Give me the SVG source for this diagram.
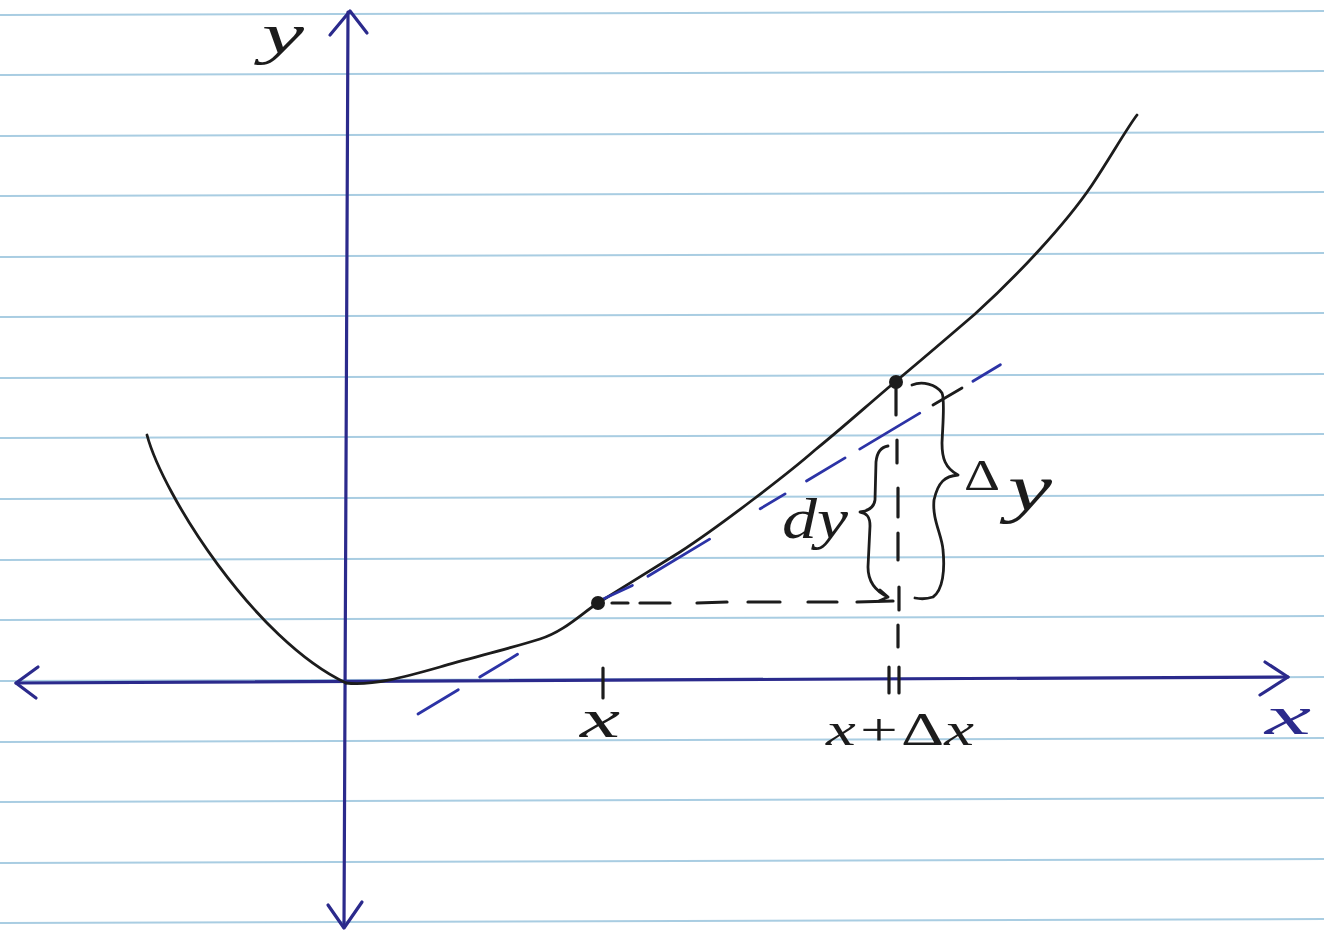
<svg xmlns="http://www.w3.org/2000/svg" width="1324" height="941" viewBox="0 0 1324 941">
<defs>
<style>
.paper{stroke:#a9cde2;stroke-width:2;fill:none}
.axis{stroke:#2b2a8c;stroke-width:3.2;fill:none;stroke-linecap:round;stroke-linejoin:round}
.ink{stroke:#1c1c1c;stroke-width:2.8;fill:none;stroke-linecap:round;stroke-linejoin:round}
.dash{stroke:#1c1c1c;stroke-width:3.2;fill:none;stroke-linecap:round}
.tan{stroke:#2c33a6;stroke-width:2.8;fill:none;stroke-linecap:round}
.lbl{font-family:"Liberation Serif","DejaVu Serif",serif;font-style:italic;fill:#1c1c1c}
.up{font-style:normal}
</style>
</defs>
<rect width="1324" height="941" fill="#ffffff"/>
<g id="paper">
<line class="paper" x1="0" y1="15" x2="1324" y2="11"/>
<line class="paper" x1="0" y1="75" x2="1324" y2="71"/>
<line class="paper" x1="0" y1="136" x2="1324" y2="132"/>
<line class="paper" x1="0" y1="196" x2="1324" y2="192"/>
<line class="paper" x1="0" y1="257" x2="1324" y2="253"/>
<line class="paper" x1="0" y1="317" x2="1324" y2="313"/>
<line class="paper" x1="0" y1="378" x2="1324" y2="374"/>
<line class="paper" x1="0" y1="438" x2="1324" y2="434"/>
<line class="paper" x1="0" y1="499" x2="1324" y2="495"/>
<line class="paper" x1="0" y1="560" x2="1324" y2="556"/>
<line class="paper" x1="0" y1="620" x2="1324" y2="616"/>
<line class="paper" x1="0" y1="681" x2="1324" y2="677"/>
<line class="paper" x1="0" y1="742" x2="1324" y2="738"/>
<line class="paper" x1="0" y1="802" x2="1324" y2="798"/>
<line class="paper" x1="0" y1="863" x2="1324" y2="859"/>
<line class="paper" x1="0" y1="923" x2="1324" y2="919"/>
</g>
<g id="axes">
<g id="y-axis">
<path class="axis" d="M348,12 L344,927"/>
<path class="axis" d="M330,35 L350,11 L367,33"/>
<path class="axis" d="M328,905 L344,928 L362,902"/>
</g>
<g id="x-axis">
<path class="axis" d="M16,683 L1288,677"/>
<path class="axis" d="M38,667 L16,683 L36,698"/>
<path class="axis" d="M1265,662 L1288,677 L1260,695"/>
</g>
</g>
<g id="curve">
<path class="ink" d="M147,435 C163,495 255,640 346,683"/>
<path class="ink" d="M346,683 C372,686 405,677 440,667 C475,657 515,647 540,639 C565,631 582,613 598,603 C622,588 680,552 680,552 C720,526 790,472 815,450 C840,430 870,403 895,382 C925,357 975,314 975,314 C1015,278 1065,225 1092,185 C1110,158 1127,128 1137,115"/>
</g>
<g id="connectors">
<g id="tangent">
<line class="tan" x1="418" y1="714" x2="458.3" y2="689.8"/>
<line class="tan" x1="479.8" y1="677" x2="517.5" y2="654.3"/>
<line class="tan" x1="601" y1="600" x2="632.4" y2="585.4"/>
<line class="tan" x1="647.9" y1="576.2" x2="709.6" y2="539.1"/>
<line class="tan" x1="760.2" y1="508.8" x2="785.1" y2="493.9"/>
<line class="tan" x1="806.5" y1="481" x2="845.1" y2="457.9"/>
<line class="tan" x1="859.7" y1="449.1" x2="919.8" y2="413.1"/>
<line class="tan" x1="972.9" y1="381.2" x2="1000.4" y2="364.8"/>
</g>
<g id="dx-line">
<line class="dash" x1="612" y1="603" x2="628" y2="603"/>
<line class="dash" x1="640" y1="603" x2="670" y2="603"/>
<line class="dash" x1="697" y1="603" x2="727" y2="602"/>
<line class="dash" x1="748" y1="602" x2="780" y2="602"/>
<line class="dash" x1="808" y1="602" x2="837" y2="602"/>
<line class="dash" x1="857" y1="602" x2="893" y2="601"/>
</g>
<g id="vertical-line">
<line class="dash" x1="896" y1="388" x2="896" y2="415"/>
<line class="dash" x1="897" y1="440" x2="897" y2="463"/>
<line class="dash" x1="898" y1="488" x2="898" y2="517"/>
<line class="dash" x1="898" y1="533" x2="898" y2="560"/>
<line class="dash" x1="899" y1="587" x2="899" y2="610"/>
<line class="dash" x1="898" y1="625" x2="898" y2="647"/>
</g>
<line class="ink" x1="933" y1="405" x2="962" y2="388"/>
</g>
<g id="points">
<circle cx="598" cy="603" r="7" fill="#1c1c1c"/>
<circle cx="896" cy="382" r="7" fill="#1c1c1c"/>
</g>
<g id="ticks">
<line class="dash" x1="603" y1="668" x2="603" y2="698"/>
<line class="dash" x1="889" y1="667" x2="889" y2="693"/>
<line class="dash" x1="899" y1="667" x2="899" y2="693"/>
</g>
<g id="dy-brace">
<path class="ink" d="M888,446 C881,447 877,452 876,462 L875,500 C874,508 868,511 860,512 C867,513 870,517 870,526 L868,567 C868,580 873,590 888,597 M880,590 L888,597 L879,601"/>
</g>
<g id="delta-y-brace">
<path class="ink" d="M912,385 C922,381 936,384 942,393 C945,400 943,420 942,443 C942,458 945,468 958,475 C945,476 938,482 934,500 C932,520 942,535 943,550 C945,570 943,590 933,597 C927,599 920,599 915,598"/>
</g>
<g id="label-y"><text class="lbl" x="262" y="53" font-size="56" textLength="42" lengthAdjust="spacingAndGlyphs">y</text></g>
<g id="label-dy"><text class="lbl" x="782" y="538" font-size="56" textLength="66" lengthAdjust="spacingAndGlyphs">dy</text></g>
<g id="label-delta-y"><text class="lbl up" x="964" y="490" font-size="44" textLength="36" lengthAdjust="spacingAndGlyphs">Δ</text><text class="lbl" x="1008" y="510" font-size="66" textLength="44" lengthAdjust="spacingAndGlyphs">y</text></g>
<g id="label-x"><text class="lbl" x="580" y="737" font-size="54" textLength="40" lengthAdjust="spacingAndGlyphs">x</text></g>
<g id="label-x-dx"><text class="lbl" x="826" y="745" font-size="46" textLength="148" lengthAdjust="spacingAndGlyphs">x+<tspan class="up">Δ</tspan>x</text></g>
<g id="label-x-axis"><text class="lbl" x="1265" y="734" font-size="54" textLength="46" lengthAdjust="spacingAndGlyphs" style="fill:#2b2a8c">x</text></g>
</svg>
